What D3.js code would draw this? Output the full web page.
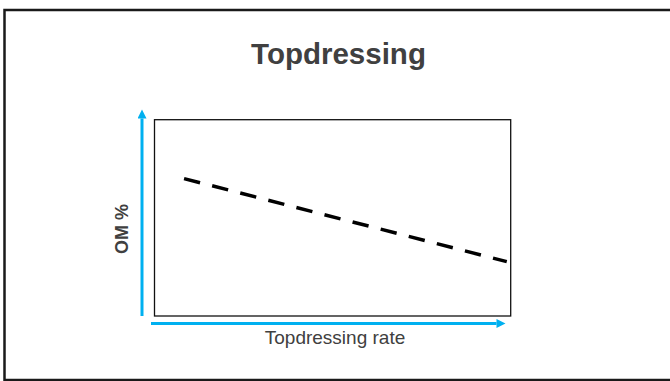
<!DOCTYPE html>
<html>
<head>
<meta charset="utf-8">
<script src="https://cdn.jsdelivr.net/npm/d3@7"></script>
<style>
  body { margin: 0; background: #fff; }
  svg { display: block; }
</style>
</head>
<body>
<div id="chart"></div>
<script>
// ---------- data (conceptual trend: OM % falls as topdressing rate rises) ----------
var rate = [0.83, 9.89];
var om = [7.0, 2.77];
var title = "Topdressing";
var xLabel = "Topdressing rate";
var yLabel = "OM %";

var svgWidth = 670, svgHeight = 381;
var blue = "#00b0f0";
var grey = "#404040";

var svg = d3.select("#chart").append("svg")
  .attr("width", svgWidth).attr("height", svgHeight);

// outer slide frame (right edge runs off the page)
svg.append("rect")
  .attr("x", 4.5).attr("y", 10)
  .attr("width", 680).attr("height", 370)
  .attr("fill", "none").attr("stroke", "#1a1a1a").attr("stroke-width", 2.5);

// plot area
var plot = {left: 154.5, top: 119.7, right: 510.7, bottom: 316};

var xScale = d3.scaleLinear().domain([0, 10]).range([plot.left, plot.right]);
var yScale = d3.scaleLinear().domain([0, 10]).range([plot.bottom, plot.top]);

svg.append("rect")
  .attr("x", xScale(0)).attr("y", yScale(10))
  .attr("width", xScale(10) - xScale(0))
  .attr("height", yScale(0) - yScale(10))
  .attr("fill", "none").attr("stroke", "#111").attr("stroke-width", 1.3);

// title
svg.append("text")
  .attr("x", 338.5).attr("y", 64.3)
  .attr("text-anchor", "middle")
  .attr("font-family", "Liberation Sans, Arial, sans-serif")
  .attr("font-size", "29.5px")
  .attr("font-weight", "bold")
  .attr("fill", grey)
  .text(title);

// blue axis arrows
var arrowDefs = svg.append("defs");
arrowDefs.append("marker")
  .attr("id", "head")
  .attr("viewBox", "0 0 10 10")
  .attr("refX", 0).attr("refY", 5)
  .attr("markerUnits", "userSpaceOnUse")
  .attr("markerWidth", 9.5).attr("markerHeight", 9)
  .attr("orient", "auto")
  .append("path")
  .attr("d", "M0,0 L10,5 L0,10 Z")
  .attr("fill", blue);

svg.append("line")
  .attr("x1", 142).attr("y1", plot.bottom)
  .attr("x2", 142).attr("y2", 118.5)
  .attr("stroke", blue).attr("stroke-width", 3)
  .attr("marker-end", "url(#head)");

svg.append("line")
  .attr("x1", 151).attr("y1", 323.5)
  .attr("x2", 496.5).attr("y2", 323.5)
  .attr("stroke", blue).attr("stroke-width", 3)
  .attr("marker-end", "url(#head)");

// axis titles
svg.append("text")
  .attr("x", 335).attr("y", 344)
  .attr("text-anchor", "middle")
  .attr("font-family", "Liberation Sans, Arial, sans-serif")
  .attr("font-size", "19px")
  .attr("fill", grey)
  .text(xLabel);

svg.append("text")
  .attr("transform", "translate(128.3, 229) rotate(-90)")
  .attr("text-anchor", "middle")
  .attr("font-family", "Liberation Sans, Arial, sans-serif")
  .attr("font-size", "18px")
  .attr("font-weight", "bold")
  .attr("fill", grey)
  .text(yLabel);

// dashed trend line
var line = d3.line()
  .x(function(d, i) { return xScale(rate[i]); })
  .y(function(d) { return yScale(d); });

svg.append("path")
  .datum(om)
  .attr("d", line)
  .attr("fill", "none")
  .attr("stroke", "#000")
  .attr("stroke-width", 3.5)
  .attr("stroke-dasharray", "16.5,12.5");
</script>
</body>
</html>
